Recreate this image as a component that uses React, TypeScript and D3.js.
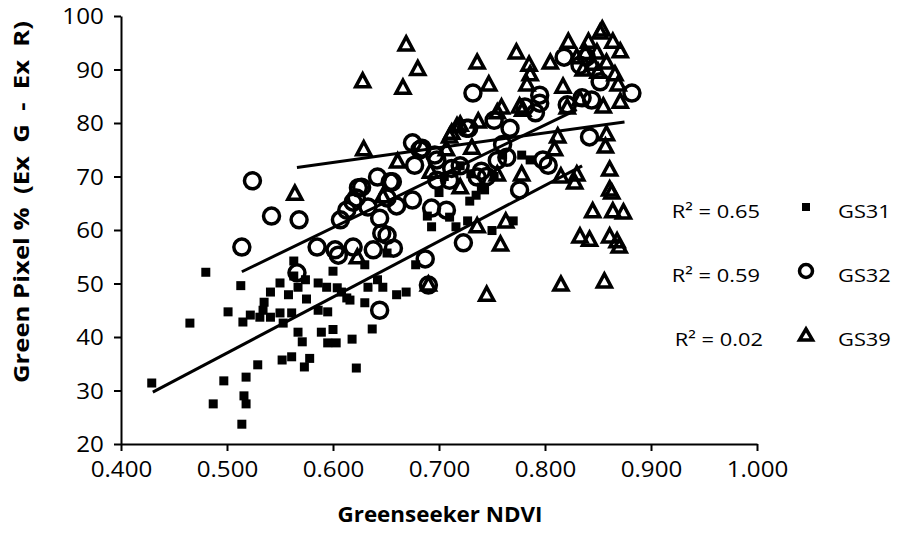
import React, { useRef, useEffect } from "react";
import * as d3 from "d3";

// data: [ndvi, green pixel %]
const gs31 = [
  [0.429, 31.4], [0.465, 42.6], [0.48, 52.1], [0.487, 27.5], [0.497, 31.8], [0.501, 44.7],
  [0.513, 49.6], [0.515, 42.8], [0.514, 23.7], [0.516, 29], [0.518, 27.5], [0.518, 32.5],
  [0.522, 44.1], [0.529, 34.8], [0.531, 43.7], [0.534, 45], [0.535, 46.5], [0.541, 43.7],
  [0.541, 48.4], [0.55, 50.1], [0.55, 44.5], [0.552, 35.7], [0.553, 42.6], [0.558, 47.9],
  [0.561, 44.5], [0.561, 36.3], [0.563, 54.2], [0.563, 51.4], [0.567, 49.3], [0.567, 40.9],
  [0.571, 39.1], [0.573, 34.4], [0.574, 50.7], [0.575, 47.1], [0.578, 36], [0.586, 50.1],
  [0.586, 45], [0.589, 40.9], [0.594, 49.3], [0.595, 44.7], [0.595, 38.9], [0.6, 52.3],
  [0.6, 41.4], [0.603, 38.9], [0.604, 49.2], [0.608, 48.4], [0.613, 47.3], [0.616, 46.9],
  [0.618, 39.6], [0.622, 34.2], [0.63, 46.4], [0.63, 53.5], [0.633, 49.3], [0.637, 41.5],
  [0.642, 50.7], [0.647, 49.3], [0.651, 55.7], [0.66, 47.9], [0.669, 48.4], [0.678, 53.5],
  [0.689, 62.6], [0.693, 60.6], [0.7, 67], [0.705, 70], [0.71, 62.4], [0.716, 60.6],
  [0.72, 72], [0.727, 61.7], [0.729, 65.4], [0.73, 70.5], [0.735, 66.5], [0.74, 68],
  [0.743, 67.5], [0.75, 59.9], [0.752, 70], [0.76, 74], [0.77, 61.7], [0.778, 74], [0.786, 73.1],
];

const gs32 = [
  [0.514, 56.8], [0.524, 69.2], [0.542, 62.6], [0.566, 52], [0.568, 61.9], [0.585, 56.8],
  [0.602, 56.3], [0.605, 55.3], [0.607, 61.9], [0.613, 63.7], [0.619, 65.2], [0.619, 56.8],
  [0.624, 67.9], [0.627, 68], [0.622, 66], [0.633, 64.3], [0.638, 56.3], [0.642, 69.9],
  [0.644, 62.2], [0.644, 45], [0.646, 59.4], [0.651, 59], [0.651, 66], [0.654, 69],
  [0.656, 69], [0.657, 56.6], [0.66, 64.5], [0.675, 76.3], [0.675, 65.6], [0.677, 72.1],
  [0.682, 75], [0.684, 75.3], [0.687, 54.6], [0.69, 49.7], [0.693, 64.1], [0.696, 74],
  [0.698, 73.1], [0.698, 69.3], [0.707, 63.7], [0.71, 69.3], [0.712, 71.5], [0.72, 72],
  [0.723, 57.6], [0.726, 79], [0.728, 79], [0.732, 85.6], [0.736, 69.9], [0.74, 71],
  [0.745, 70], [0.752, 80.5], [0.755, 73], [0.76, 76], [0.764, 73.6], [0.767, 79],
  [0.776, 67.5], [0.781, 83], [0.791, 81.9], [0.795, 85.2], [0.795, 83.7], [0.798, 73.1],
  [0.803, 72.1], [0.818, 92.3], [0.821, 83.4], [0.833, 90.8], [0.835, 84.7], [0.839, 92.3],
  [0.842, 77.4], [0.844, 84.3], [0.852, 87.7], [0.882, 85.6],
];

const gs39 = [
  [0.564, 66.7], [0.623, 54.8], [0.628, 87.7], [0.629, 75], [0.647, 66.2], [0.661, 72.7],
  [0.666, 86.5], [0.669, 94.6], [0.68, 90], [0.69, 49.7], [0.692, 70.8], [0.707, 75],
  [0.71, 77.4], [0.712, 78.1], [0.717, 79.3], [0.72, 67.9], [0.72, 79.6], [0.731, 75.3],
  [0.736, 91.2], [0.736, 60.6], [0.737, 80.2], [0.745, 47.8], [0.747, 87.1], [0.755, 81.9],
  [0.755, 70.3], [0.759, 82.8], [0.758, 57.2], [0.763, 61.5], [0.773, 93.1], [0.776, 83],
  [0.778, 70.3], [0.779, 82.4], [0.783, 87.1], [0.785, 90.8], [0.786, 89], [0.805, 91.2],
  [0.809, 75], [0.812, 77.4], [0.815, 69.9], [0.815, 49.7], [0.817, 86.7], [0.821, 82.8],
  [0.822, 95.1], [0.828, 68.8], [0.83, 70.3], [0.83, 92.2], [0.833, 84.3], [0.833, 58.7],
  [0.836, 89.9], [0.838, 93], [0.841, 95.1], [0.842, 58.1], [0.845, 63.4], [0.845, 91],
  [0.849, 93.1], [0.85, 89.5], [0.852, 96.8], [0.854, 97.4], [0.855, 83], [0.856, 50.3],
  [0.857, 75.5], [0.858, 77.8], [0.858, 91.2], [0.861, 71.2], [0.861, 67.5], [0.861, 58.7],
  [0.863, 66.9], [0.864, 63.4], [0.864, 95.1], [0.866, 89], [0.868, 57.8], [0.869, 87.1],
  [0.87, 56.8], [0.871, 93.3], [0.871, 83.9], [0.874, 63.2],
];

// linear trendlines, endpoints as drawn
const gs31Trend = [[0.43, 29.7], [0.835, 72]];
const gs32Trend = [[0.514, 52.2], [0.83, 82.5]];
const gs39Trend = [[0.566, 71.7], [0.875, 80.2]];

const xTicks = [0.4, 0.5, 0.6, 0.7, 0.8, 0.9, 1.0];
const yTicks = [20, 30, 40, 50, 60, 70, 80, 90, 100];
const seriesNames = ["GS31", "GS32", "GS39"];
const rSquared = ["0.65", "0.59", "0.02"];

const FONT = "'Open Sans', sans-serif";
const SX = 1.15; // the source text looks a bit stretched sideways

const triPath = "M0,-8L7,5L-7,5Z";

function App() {
  const xAxisRef = useRef(null);
  const yAxisRef = useRef(null);

  const x = d3.scaleLinear().domain([0.4, 1.0]).range([121, 757]);
  const y = d3.scaleLinear().domain([20, 100]).range([444, 16]);
  const line = d3.line().x(d => x(d[0])).y(d => y(d[1]));

  useEffect(() => {
    const xa = d3.axisBottom(x).tickValues(xTicks).tickFormat(d3.format(".3f")).tickSize(7).tickSizeOuter(0).tickPadding(11);
    const ya = d3.axisLeft(y).tickValues(yTicks).tickSize(7).tickSizeOuter(0).tickPadding(8);
    const gx = d3.select(xAxisRef.current).call(xa);
    const gy = d3.select(yAxisRef.current).call(ya);
    [gx, gy].forEach(g => {
      g.select(".domain").attr("stroke", "#000").attr("stroke-width", 2);
      g.selectAll(".tick line").attr("stroke", "#000").attr("stroke-width", 2);
      g.selectAll(".tick text")
        .attr("font-family", FONT)
        .attr("font-size", 21)
        .attr("fill", "#000");
    });
    gx.selectAll(".tick text").attr("transform", `scale(${SX},1)`);
    gy.selectAll(".tick text").attr("transform", `scale(${SX},1)`).attr("dy", "0.36em");
  }, []);

  const legendRows = [207, 271, 335];

  return (
    <svg width={898} height={546} style={{ position: "absolute", left: 0, top: 0, background: "#fff" }}>
      <g ref={xAxisRef} transform={`translate(0,${y(20)})`} />
      <g ref={yAxisRef} transform={`translate(${x(0.4)},0)`} />

      <g>
        {gs31.map((d, i) => (
          <rect key={i} x={x(d[0]) - 4.5} y={y(d[1]) - 4.5} width={9} height={9} fill="#000" />
        ))}
      </g>
      <g>
        {gs32.map((d, i) => (
          <circle key={i} cx={x(d[0])} cy={y(d[1])} r={8} fill="none" stroke="#000" strokeWidth={3.5} />
        ))}
      </g>
      <g>
        {gs39.map((d, i) => (
          <path key={i} d={triPath} transform={`translate(${x(d[0])},${y(d[1])})`} fill="none" stroke="#000" strokeWidth={3.5} strokeLinejoin="miter" />
        ))}
      </g>

      {[gs31Trend, gs32Trend, gs39Trend].map((t, i) => (
        <path key={i} d={line(t)} fill="none" stroke="#000" strokeWidth={3} />
      ))}

      {/* R² labels + legend */}
      {seriesNames.map((name, i) => (
        <g key={name}>
          <text transform={`translate(${i === 2 ? 763 : 760},${legendRows[i] + 11}) scale(${SX},1)`} textAnchor="end"
            fontFamily={FONT} fontSize={19} fill="#000">
            R² = {rSquared[i]}
          </text>
          {i === 0 && <rect x={802} y={legendRows[i] - 4} width={8} height={8} fill="#000" />}
          {i === 1 && <circle cx={806} cy={legendRows[i]} r={6.5} fill="none" stroke="#000" strokeWidth={3.5} />}
          {i === 2 && <path d="M0,-6L6.5,5L-6.5,5Z" transform={`translate(806,${legendRows[i]})`} fill="none" stroke="#000" strokeWidth={3.5} />}
          <text transform={`translate(838,${legendRows[i] + 11}) scale(${SX},1)`} fontFamily={FONT} fontSize={19} fill="#000">
            {name}
          </text>
        </g>
      ))}

      <text x={440} y={522} textAnchor="middle" fontFamily={FONT} fontSize={21} fontWeight="bold" fill="#000"
        textLength={205} lengthAdjust="spacingAndGlyphs">
        Greenseeker NDVI
      </text>
      <text transform="translate(29,202) rotate(-90)" textAnchor="middle" fontFamily={FONT} fontSize={21} fontWeight="bold"
        fill="#000" textLength={362} lengthAdjust="spacingAndGlyphs" style={{ whiteSpace: "pre" }}>
        Green Pixel %  (Ex  G  -  Ex  R)
      </text>
    </svg>
  );
}

export default App;
